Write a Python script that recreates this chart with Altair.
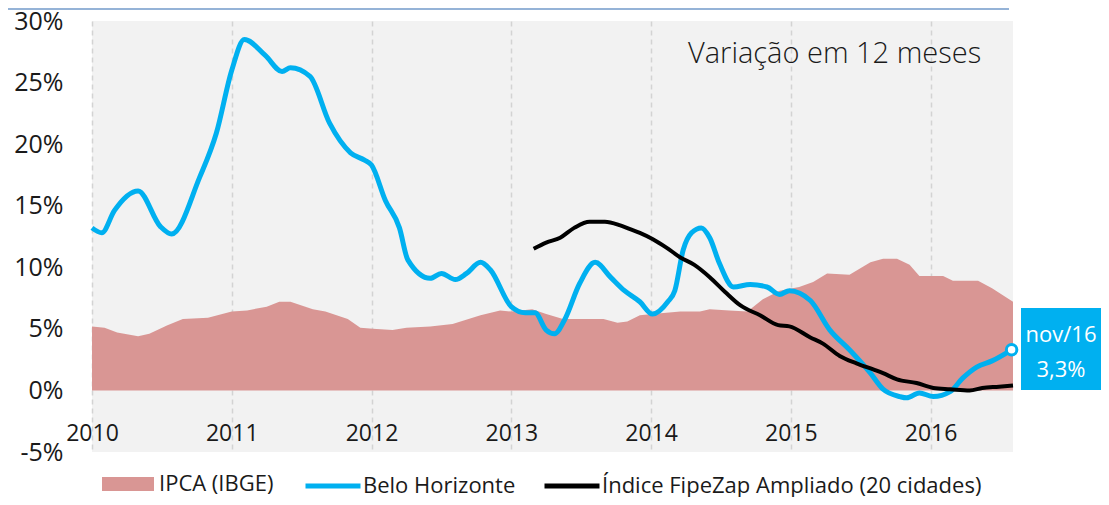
import altair as alt
import pandas as pd

# ---------------- data ----------------
bh_year = [2010.00, 2010.07, 2010.16, 2010.33, 2010.49, 2010.57, 2010.77, 2010.89, 2011.00, 2011.09,
           2011.24, 2011.36, 2011.42, 2011.56, 2011.70, 2011.85, 2011.95, 2012.00, 2012.10, 2012.20,
           2012.26, 2012.42, 2012.50, 2012.60, 2012.68, 2012.78, 2012.85, 2013.00, 2013.10, 2013.17,
           2013.25, 2013.31, 2013.38, 2013.49, 2013.60, 2013.71, 2013.81, 2013.92, 2014.01, 2014.12,
           2014.17, 2014.23, 2014.29, 2014.36, 2014.42, 2014.49, 2014.59, 2014.71, 2014.83, 2014.92,
           2014.99, 2015.14, 2015.28, 2015.42, 2015.57, 2015.66, 2015.78, 2015.83, 2015.92, 2016.02,
           2016.14, 2016.23, 2016.33, 2016.44, 2016.58]
bh_val = [13.2, 12.8, 14.6, 16.2, 13.3, 12.7, 17.3, 20.9, 26.0, 28.5,
          27.2, 25.9, 26.2, 25.5, 21.7, 19.3, 18.7, 18.3, 15.4, 13.2,
          10.6, 9.1, 9.5, 9.0, 9.5, 10.4, 9.8, 6.8, 6.3, 6.3,
          4.9, 4.6, 5.7, 8.7, 10.4, 9.2, 8.1, 7.2, 6.2, 7.2,
          8.1, 11.4, 12.8, 13.2, 12.4, 10.3, 8.4, 8.6, 8.4, 7.8,
          8.1, 7.3, 4.9, 3.3, 1.4, 0.1, -0.5, -0.6, -0.2, -0.5,
          -0.1, 1.0, 1.9, 2.4, 3.3]

fz_year = [2013.16, 2013.25, 2013.35, 2013.45, 2013.56, 2013.67, 2013.78, 2013.85, 2013.92, 2014.01,
           2014.11, 2014.21, 2014.31, 2014.42, 2014.53, 2014.64, 2014.78, 2014.91, 2014.99, 2015.14,
           2015.23, 2015.35, 2015.47, 2015.59, 2015.66, 2015.76, 2015.90, 2016.02, 2016.14, 2016.28,
           2016.37, 2016.49, 2016.59]
fz_val = [11.5, 12.0, 12.4, 13.2, 13.7, 13.7, 13.4, 13.1, 12.8, 12.3,
          11.6, 10.8, 10.2, 9.2, 8.0, 6.9, 6.1, 5.3, 5.2, 4.3,
          3.8, 2.8, 2.2, 1.7, 1.4, 0.9, 0.6, 0.2, 0.1, 0.0,
          0.2, 0.3, 0.4]

ipca_year = [2010.00, 2010.09, 2010.18, 2010.33, 2010.41, 2010.54, 2010.65, 2010.83, 2011.00, 2011.11,
             2011.25, 2011.34, 2011.42, 2011.58, 2011.67, 2011.83, 2011.92, 2012.01, 2012.15, 2012.25,
             2012.42, 2012.58, 2012.78, 2012.92, 2013.00, 2013.15, 2013.25, 2013.37, 2013.56, 2013.66,
             2013.76, 2013.83, 2013.92, 2014.01, 2014.21, 2014.35, 2014.42, 2014.56, 2014.69, 2014.80,
             2014.92, 2015.06, 2015.16, 2015.26, 2015.42, 2015.57, 2015.66, 2015.76, 2015.85, 2015.92,
             2016.09, 2016.16, 2016.34, 2016.44, 2016.59]
ipca_val = [5.2, 5.1, 4.7, 4.4, 4.6, 5.3, 5.8, 5.9, 6.4, 6.5,
            6.8, 7.2, 7.2, 6.6, 6.4, 5.8, 5.1, 5.0, 4.9, 5.1,
            5.2, 5.4, 6.1, 6.5, 6.4, 6.6, 6.2, 5.8, 5.8, 5.8,
            5.5, 5.6, 6.1, 6.2, 6.4, 6.4, 6.6, 6.5, 6.4, 7.4,
            8.1, 8.4, 8.8, 9.5, 9.4, 10.4, 10.7, 10.7, 10.2, 9.3,
            9.3, 8.9, 8.9, 8.3, 7.2]

year_ticks = [2010, 2011, 2012, 2013, 2014, 2015, 2016]
pct_ticks = [-5, 0, 5, 10, 15, 20, 25, 30]

S_IPCA = "IPCA (IBGE)"
S_BH = "Belo Horizonte"
S_FZ = "Índice FipeZap Ampliado (20 cidades)"
last_label = ["nov/16", "3,3%"]
panel_title = "Variação em 12 meses"

# ---------------- styling ----------------
FONT = "Open Sans"
TXT = "#1a1a1a"
BLUE = "#00b0f0"
PINK = "#d99694"
W, H = 921, 431

ipca = pd.DataFrame({"ano": ipca_year, "v": ipca_val, "serie": S_IPCA})
bh = pd.DataFrame({"ano": bh_year, "v": bh_val, "serie": S_BH})
fz = pd.DataFrame({"ano": fz_year, "v": fz_val, "serie": S_FZ})
last = bh.tail(1)

x_enc = alt.X("ano:Q",
              scale=alt.Scale(domain=[2010, 2016.59], nice=False, zero=False),
              axis=alt.Axis(values=year_ticks, format="d", title=None,
                            grid=True, gridDash=[5, 4], gridColor="#d3d3d3", gridWidth=1.5,
                            domain=False, ticks=False, tickSize=0,
                            labelFont=FONT, labelFontSize=23, labelColor=TXT,
                            offset=-30, labelPadding=0, labelFlush=False))
y_enc = alt.Y("v:Q",
              scale=alt.Scale(domain=[-5, 30], nice=False),
              axis=alt.Axis(values=pct_ticks, labelExpr="datum.value + '%'", title=None,
                            grid=False, domain=False, ticks=False, tickSize=0,
                            labelFont=FONT, labelFontSize=25, labelColor=TXT,
                            labelPadding=29))

area = alt.Chart(ipca).mark_area(interpolate="linear", opacity=1).encode(
    x=x_enc, y=y_enc,
    fill=alt.Fill("serie:N", scale=alt.Scale(domain=[S_IPCA], range=[PINK]),
                  legend=alt.Legend(orient="none", legendX=10, legendY=437, direction="horizontal",
                                    title=None, padding=0, labelFont=FONT, labelFontSize=22,
                                    labelColor=TXT, labelLimit=0,
                                    symbolType="M-1,-0.27H1V0.27H-1Z",
                                    symbolSize=2704, symbolStrokeWidth=0, labelOffset=5)),
)

stroke_scale = alt.Scale(domain=[S_BH, S_FZ], range=[BLUE, "#000000"])
stroke_legend = alt.Legend(orient="none", legendX=211, legendY=435, direction="horizontal",
                           title=None, padding=0, labelFont=FONT, labelFontSize=22, labelColor=TXT,
                           labelLimit=0, symbolType="stroke", symbolSize=3025, symbolStrokeWidth=5,
                           labelOffset=0, columnPadding=18)

line_bh = alt.Chart(bh).mark_line(interpolate="monotone", strokeWidth=5).encode(
    x=x_enc, y=y_enc, stroke=alt.Stroke("serie:N", scale=stroke_scale, legend=stroke_legend))
line_fz = alt.Chart(fz).mark_line(interpolate="monotone", strokeWidth=4).encode(
    x=x_enc, y=y_enc, stroke=alt.Stroke("serie:N", scale=stroke_scale, legend=stroke_legend))

end_pt = alt.Chart(last).mark_point(filled=True, fill="white", stroke=BLUE, strokeWidth=3,
                                    size=110, opacity=1).encode(x=x_enc, y=y_enc)

box = alt.Chart(last).mark_rect(color=BLUE).encode(
    x=alt.value(929), x2=alt.value(1017), y=alt.value(287), y2=alt.value(369))
box_t1 = alt.Chart(last).mark_text(text=last_label[0], color="white", font=FONT, fontSize=22,
                                   align="center", baseline="middle").encode(
    x=alt.value(969), y=alt.value(314))
box_t2 = alt.Chart(last).mark_text(text=last_label[1], color="white", font=FONT, fontSize=22,
                                   align="center", baseline="middle").encode(
    x=alt.value(969), y=alt.value(349))

title_txt = alt.Chart(last).mark_text(text=panel_title, color=TXT, font=FONT, fontSize=29,
                                      fontWeight=300, align="left", baseline="middle").encode(
    x=alt.value(596), y=alt.value(33))

top_rule = alt.Chart(last).mark_rule(color="#95b3d7", strokeWidth=2).encode(
    x=alt.value(-92), x2=alt.value(917), y=alt.value(-12))

chart = alt.layer(area, line_bh, line_fz, end_pt, box, box_t1, box_t2, title_txt, top_rule).properties(
    width=W, height=H,
    autosize=alt.AutoSizeParams(type="none"),
    padding={"left": 84, "top": 13, "right": 88, "bottom": 45},
).resolve_scale(stroke="shared").configure_view(fill="#f2f2f2", stroke=None)

chart.save("out.html", embed_options={"renderer": "svg", "actions": False})
